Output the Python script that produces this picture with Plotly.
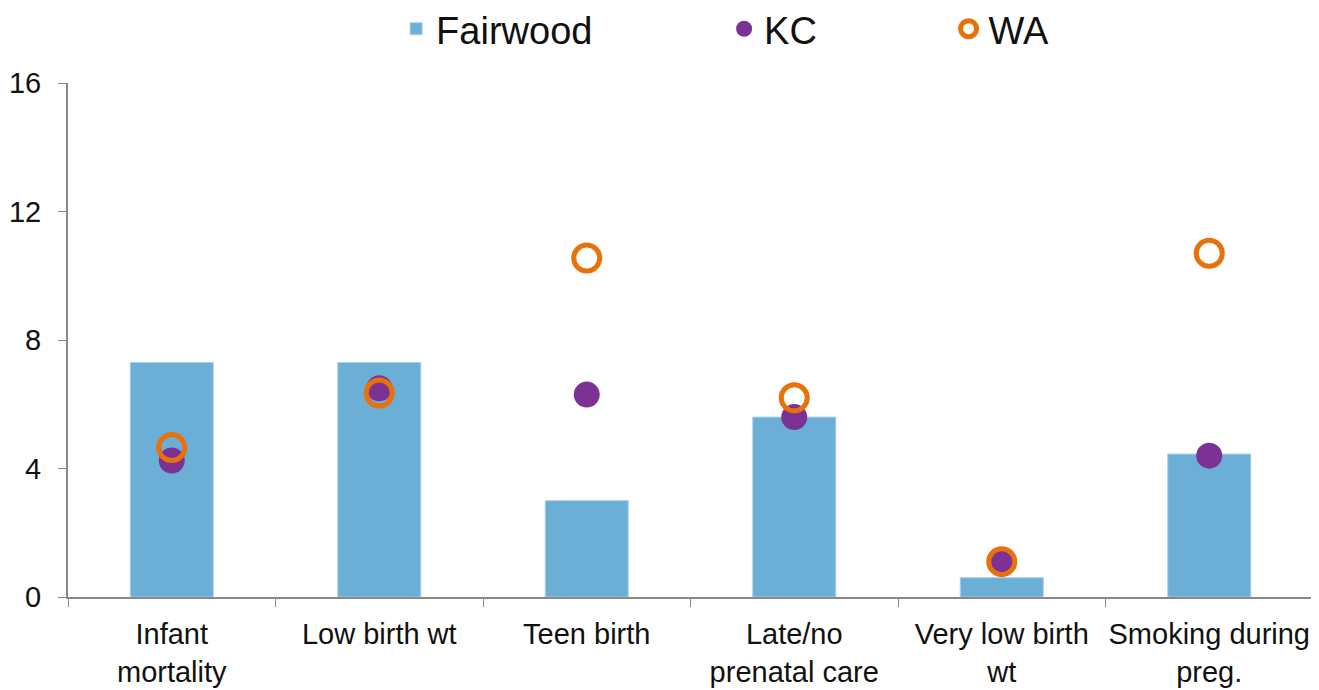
import plotly.graph_objects as go

categories = ["Infant<br>mortality", "Low birth wt", "Teen birth",
              "Late/no<br>prenatal care", "Very low birth<br>wt", "Smoking during<br>preg."]
fairwood = [7.3, 7.3, 3.0, 5.6, 0.6, 4.45]
kc = [4.25, 6.5, 6.3, 5.6, 1.05, 4.4]
wa = [4.65, 6.35, 10.55, 6.2, 1.1, 10.7]

FONT = "Liberation Sans, Arial, sans-serif"
NB = "\u00a0"

fig = go.Figure()
fig.add_trace(go.Bar(x=categories, y=fairwood, name="Fairwood" + NB * 12, width=0.4,
                     marker=dict(color="#6baed6", line=dict(color="#a9cfe8", width=1))))
fig.add_trace(go.Scatter(x=categories, y=kc, name="KC" + NB * 12, mode="markers",
                         marker=dict(color="#7b3294", size=26, symbol="circle")))
fig.add_trace(go.Scatter(x=categories, y=wa, name="WA", mode="markers",
                         marker=dict(color="#e8710a", size=26, symbol="circle-open",
                                     line=dict(color="#e8710a", width=5))))

fig.update_layout(
    width=1311, height=682,
    margin=dict(l=60, r=6, t=75, b=93, autoexpand=False),
    paper_bgcolor="white", plot_bgcolor="white",
    font=dict(family=FONT, size=29, color="#111"),
    showlegend=True,
    legend=dict(orientation="h", x=0.547, xanchor="center", y=1.105, yanchor="middle",
                xref="container", font=dict(size=38),
                itemsizing="trace", traceorder="normal"),
    xaxis=dict(showline=True, linecolor="#888", linewidth=2, ticks="outside",
               tickson="boundaries", ticklen=8, tickcolor="#888", tickwidth=1,
               showgrid=False, tickfont=dict(size=29), tickangle=0, ticklabelstandoff=10),
    yaxis=dict(range=[0, 16], tickvals=[0, 4, 8, 12, 16], showline=True, linecolor="#888",
               linewidth=2, ticks="outside", ticklen=8, tickcolor="#888", showgrid=False,
               zeroline=False, ticklabelstandoff=11, tickfont=dict(size=29)),
)
fig.write_html("out.html")
